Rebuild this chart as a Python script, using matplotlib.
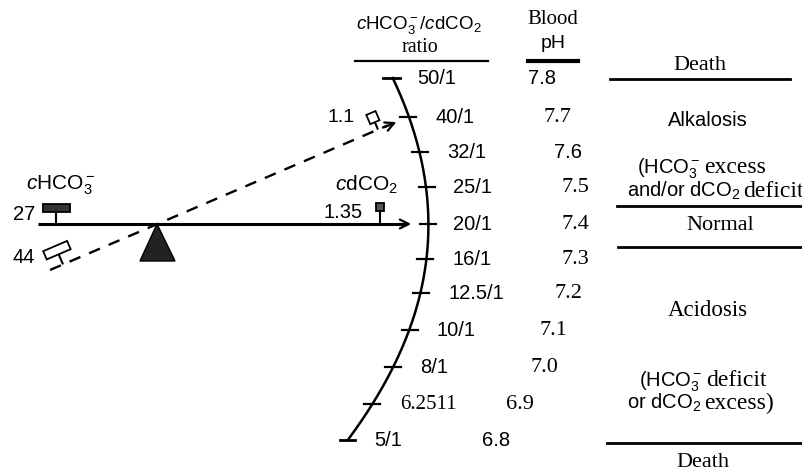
import numpy as np
import matplotlib
matplotlib.use("Agg")
import matplotlib.pyplot as plt
from matplotlib.patches import Polygon

plt.rcParams['mathtext.fontset'] = 'custom'
plt.rcParams['mathtext.default'] = 'regular'
plt.rcParams['mathtext.it'] = 'Liberation Sans:italic'
plt.rcParams['mathtext.rm'] = 'Liberation Serif'
plt.rcParams['mathtext.sf'] = 'Liberation Sans'

SANS = 'Liberation Sans'
SERIF = 'Liberation Serif'

# ratio scale (labels, positions along the curved scale in pixels)
ratios = ['50/1', '40/1', '32/1', '25/1', '20/1', '16/1', '12.5/1', '10/1', '8/1', '6.2511', '5/1']
ratio_serif = [False] * 9 + [True, False]
tick_y = [78, 117, 152, 187, 224, 259, 293, 330, 367, 404, 440]
tick_x = [393, 408, 420, 427, 428, 425, 421, 410, 393, 372, 348]
ratio_x = [417, 435, 447, 453, 453, 453, 448, 437, 420, 400, 374]

ph = ['7.8', '7.7', '7.6', '7.5', '7.4', '7.3', '7.2', '7.1', '7.0', '6.9', '6.8']
ph_serif = [False, True, False, True, True, True, True, True, True, True, False]
ph_x = [542, 557, 568, 575, 575, 575, 568, 553, 544, 520, 496]

# right-hand column: (sans part, serif part, split x, y)
notes = [(r'(HCO$_3^-$', 'excess', 701, 168),
         (r'and/or dCO$_2$', 'deficit', 740, 192),
         (r'(HCO$_3^-$', 'deficit', 703, 381),
         (r'or dCO$_2$', 'excess)', 701, 404)]

fig = plt.figure(figsize=(8.02, 4.73), dpi=100)
ax = fig.add_axes([0, 0, 1, 1])
ax.set_xlim(0, 802)
ax.set_ylim(473, 0)
ax.axis('off')


def weight(p, ang, stem, w, h, face):
    a = np.radians(ang)
    u = np.array([np.cos(a), -np.sin(a)])
    n = np.array([-np.sin(a), -np.cos(a)])
    p = np.array(p, dtype=float)
    top = p + n * stem
    ax.plot([p[0], top[0]], [p[1], top[1]], color='k', lw=1.5, solid_capstyle='butt')
    c = p + n * (stem + h / 2)
    pts = [c - u * w / 2 - n * h / 2, c + u * w / 2 - n * h / 2,
           c + u * w / 2 + n * h / 2, c - u * w / 2 + n * h / 2]
    ax.add_patch(Polygon(pts, closed=True, facecolor=face, edgecolor='k', lw=1.3))


# level beam with arrow
ax.plot([38, 405], [224, 224], color='k', lw=2.2, solid_capstyle='butt')
ax.annotate('', xy=(414, 224), xytext=(396, 224),
            arrowprops=dict(arrowstyle='->', lw=1.6, color='k', mutation_scale=16))

# tilted (dashed) beam
ang = np.degrees(np.arctan2(270 - 121, 398 - 50))
ax.plot([50, 388], [270, 270 - (388 - 50) * np.tan(np.radians(ang))], color='k', lw=1.7,
        dashes=(5, 4))
ax.annotate('', xy=(399, 121), xytext=(382, 128.3),
            arrowprops=dict(arrowstyle='->', lw=1.6, color='k', mutation_scale=16))

# fulcrum
ax.add_patch(Polygon([(157, 224), (140, 261), (175, 261)], closed=True,
                     facecolor='#222222', edgecolor='k', lw=1))

# weights
weight((56, 224), 0, 12, 27, 8, '#333333')
weight((380, 224), 0, 13, 8, 8, '#555555')
weight((63, 270 - 13 * np.tan(np.radians(ang))), ang, 11, 26, 9, 'white')
weight((378, 270 - 328 * np.tan(np.radians(ang))), ang, 8, 10, 10, 'white')

ax.text(24, 214, '27', fontsize=14.5, family=SANS, ha='center', va='center')
ax.text(24, 257, '44', fontsize=14.5, family=SANS, ha='center', va='center')
ax.text(61, 185, r'$\mathit{c}$HCO$_3^-$', fontsize=15, family=SANS, ha='center', va='center')
ax.text(341, 117, '1.1', fontsize=14, family=SANS, ha='center', va='center')
ax.text(343, 212, '1.35', fontsize=14.5, family=SANS, ha='center', va='center')
ax.text(366, 185, r'$\mathit{c}$dCO$_2$', fontsize=15, family=SANS, ha='center', va='center')

# curved ratio scale
coef = np.polyfit(tick_y, tick_x, 5)
yy = np.linspace(tick_y[0], tick_y[-1], 200)
ax.plot(np.polyval(coef, yy), yy, color='k', lw=1.8)
for i, (x, y) in enumerate(zip(tick_x, tick_y)):
    if i == 0:
        ax.plot([x - 10, x + 7], [y, y], color='k', lw=2)
    elif i == len(tick_x) - 1:
        ax.plot([x - 8, x + 7], [y, y], color='k', lw=2)
    else:
        ax.plot([x - 8, x + 8], [y, y], color='k', lw=1.6)
    ax.text(ratio_x[i], y, ratios[i], fontsize=15 if ratio_serif[i] else 14.5,
            family=SERIF if ratio_serif[i] else SANS, ha='left', va='center')
    ax.text(ph_x[i], y, ph[i], fontsize=16 if ph_serif[i] else 14.5,
            family=SERIF if ph_serif[i] else SANS, ha='center', va='center')

# headers
ax.text(419, 29, r'$\mathit{c}$HCO$_3^-$/$\mathit{c}$dCO$_2$', fontsize=13.5, family=SANS,
        ha='center', va='baseline')
ax.text(420, 47, 'ratio', fontsize=14.5, family=SERIF, ha='center', va='center')
ax.plot([355, 488], [61, 61], color='k', lw=1.6)
ax.text(553, 20, 'Blood', fontsize=15, family=SERIF, ha='center', va='center')
ax.text(553, 43, 'pH', fontsize=14, family=SANS, ha='center', va='center')
ax.plot([528, 578], [61, 61], color='k', lw=3)

# right column
for y, x0, x1 in [(79, 610, 790), (206, 617, 802), (247, 618, 802), (443, 607, 802)]:
    ax.plot([x0, x1], [y, y], color='k', lw=2)
ax.text(700, 65, 'Death', fontsize=16, family=SERIF, ha='center', va='center')
ax.text(708, 120, 'Alkalosis', fontsize=14.5, family=SANS, ha='center', va='center')
ax.text(720, 225, 'Normal', fontsize=16, family=SERIF, ha='center', va='center')
ax.text(708, 310, 'Acidosis', fontsize=16.5, family=SERIF, ha='center', va='center')
ax.text(703, 462, 'Death', fontsize=16, family=SERIF, ha='center', va='center')
for sans_part, serif_part, xs, y in notes:
    ax.text(xs, y + 5, sans_part, fontsize=14.5, family=SANS, ha='right', va='baseline')
    ax.text(xs + 3, y + 5, serif_part, fontsize=17, family=SERIF, ha='left', va='baseline')

fig.savefig('out.png', dpi=100)
